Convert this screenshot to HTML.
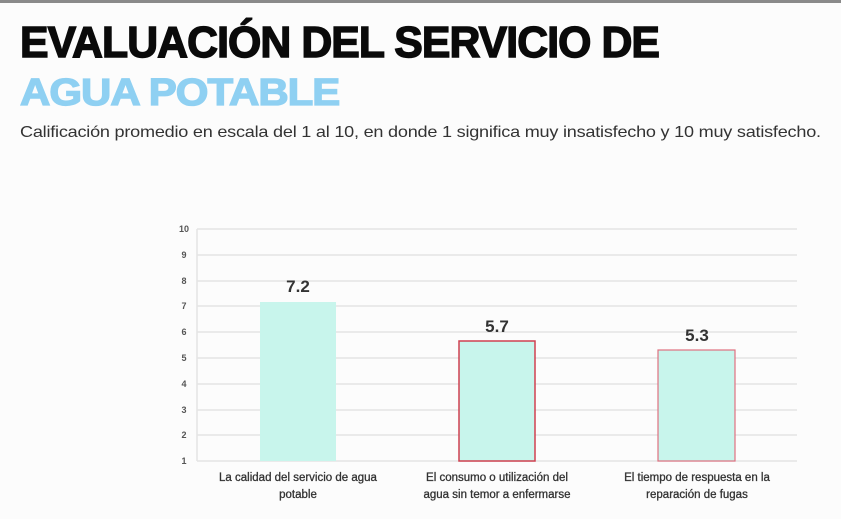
<!DOCTYPE html>
<html><head><meta charset="utf-8"><style>
html,body{margin:0;padding:0;background:#fcfcfc;}
body{width:841px;height:519px;overflow:hidden;position:relative;font-family:"Liberation Sans",sans-serif;}
.t{position:absolute;left:20px;font-weight:900;font-family:"Liberation Sans",sans-serif;letter-spacing:-1px;white-space:nowrap;transform-origin:0 0;}
</style></head><body>
<div style="position:absolute;left:0;top:0;width:841px;height:3px;background:#8a8a8a"></div>
<div class="t" style="top:16px;font-size:46px;color:#0a0a0a;transform:scaleX(0.93) scaleY(0.95);-webkit-text-stroke:1.5px #0a0a0a;">EVALUACIÓN DEL SERVICIO DE</div>
<div class="t" style="top:71px;font-size:42px;color:#8fd0f2;transform:scaleX(1.0) scaleY(0.9);-webkit-text-stroke:1.5px #8fd0f2;">AGUA POTABLE</div>
<div class="t" style="top:124px;font-size:16px;font-weight:normal;color:#333;letter-spacing:-0.2px;transform:scaleX(1.13);">Calificación promedio en escala del 1 al 10, en donde 1 significa muy insatisfecho y 10 muy satisfecho.</div>
<svg width="841" height="519" style="position:absolute;left:0;top:0" xmlns="http://www.w3.org/2000/svg">
<g stroke="#e4e4e4" stroke-width="1.5">
<line x1="197" y1="229" x2="797" y2="229"/><line x1="197" y1="255" x2="797" y2="255"/>
<line x1="197" y1="281" x2="797" y2="281"/><line x1="197" y1="306" x2="797" y2="306"/>
<line x1="197" y1="332" x2="797" y2="332"/><line x1="197" y1="358" x2="797" y2="358"/>
<line x1="197" y1="384" x2="797" y2="384"/><line x1="197" y1="410" x2="797" y2="410"/>
<line x1="197" y1="435" x2="797" y2="435"/><line x1="197" y1="461" x2="797" y2="461"/>
<line x1="197" y1="229" x2="197" y2="461"/>
</g>
<g font-family="Liberation Sans,sans-serif" font-size="9" font-weight="bold" fill="#555" text-anchor="middle">
<text x="184" y="232">10</text><text x="184" y="258">9</text><text x="184" y="284">8</text>
<text x="184" y="309">7</text><text x="184" y="335">6</text><text x="184" y="361">5</text>
<text x="184" y="387">4</text><text x="184" y="413">3</text><text x="184" y="438">2</text><text x="184" y="464">1</text>
</g>
<rect x="260" y="302" width="76" height="159" fill="#c8f5ec"/>
<rect x="459" y="341" width="76" height="120" fill="#c8f5ec" stroke="#d04050" stroke-width="1.5"/>
<rect x="658" y="350" width="77" height="111" fill="#c8f5ec" stroke="#e07080" stroke-width="1.2"/>
<g font-family="Liberation Sans,sans-serif" font-size="17" font-weight="bold" fill="#333" text-anchor="middle">
<text x="298" y="292">7.2</text><text x="497" y="332">5.7</text><text x="697" y="341">5.3</text>
</g>
<g font-family="Liberation Sans,sans-serif" font-size="11.5" fill="#333" text-anchor="middle" stroke="#333" stroke-width="0.3">
<text x="298" y="481">La calidad del servicio de agua</text><text x="298" y="498">potable</text>
<text x="497" y="481">El consumo o utilización del</text><text x="497" y="498">agua sin temor a enfermarse</text>
<text x="697" y="481">El tiempo de respuesta en la</text><text x="697" y="498">reparación de fugas</text>
</g>
</svg>
</body></html>
